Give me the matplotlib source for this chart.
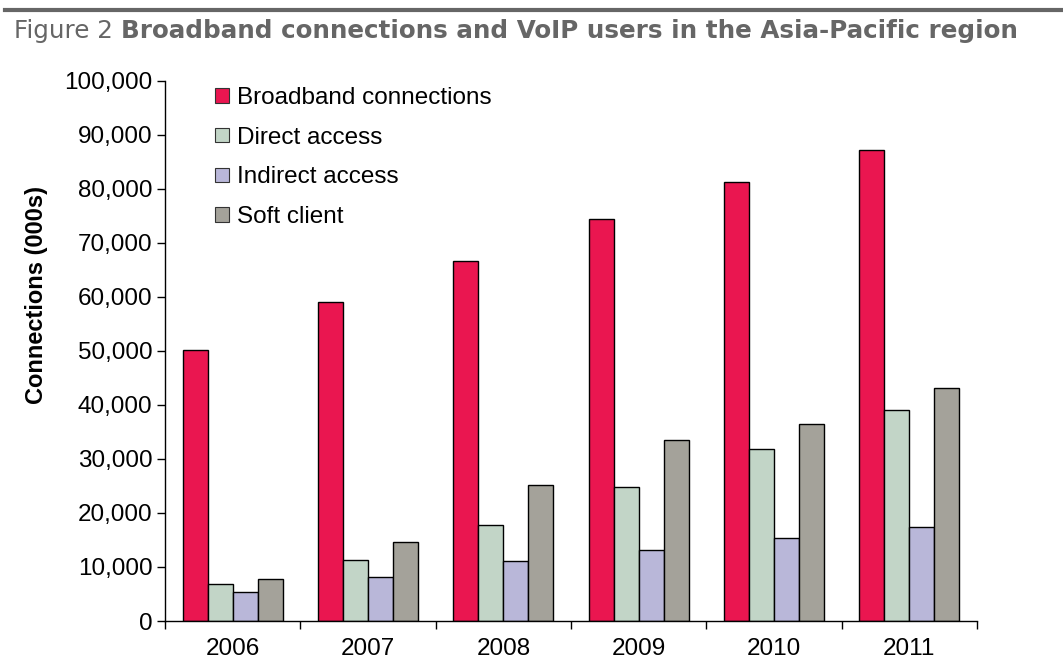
import matplotlib
matplotlib.use("Agg")
import matplotlib.pyplot as plt
import numpy as np
from matplotlib.patches import Patch
from matplotlib.ticker import FuncFormatter

years = ["2006", "2007", "2008", "2009", "2010", "2011"]
broadband = [50200, 59100, 66700, 74400, 81300, 87200]
direct = [6900, 11300, 17800, 24800, 31900, 39100]
indirect = [5400, 8100, 11100, 13100, 15400, 17400]
soft = [7800, 14600, 25200, 33500, 36500, 43100]
series_names = ["Broadband connections", "Direct access", "Indirect access", "Soft client"]
colors = ["#EA1650", "#C2D5C7", "#B9B7D9", "#A4A29A"]

plt.rcParams['font.family'] = ['Liberation Sans', 'DejaVu Sans']

fig = plt.figure(figsize=(10.63, 6.68), dpi=100)
ax = fig.add_axes([165/1063, 1-621/668, (977-165)/1063, (621-81)/668])

x = np.arange(len(years))
w = 0.185
data = [broadband, direct, indirect, soft]
for i, (vals, c) in enumerate(zip(data, colors)):
    ax.bar(x + (i - 1.5) * w, vals, width=w, color=c, edgecolor="black", linewidth=1.0)

ax.set_xlim(-0.5, len(years) - 0.5)
ax.set_ylim(0, 100000)
ax.set_yticks(np.arange(0, 100001, 10000))
ax.yaxis.set_major_formatter(FuncFormatter(lambda v, p: f"{int(v):,}"))
ax.set_xticks(x)
ax.set_xticklabels(years)
ax.set_xticks(np.arange(-0.5, len(years), 1.0), minor=True)
ax.tick_params(axis='x', which='major', length=0, labelsize=17.5, pad=12)
ax.tick_params(axis='x', which='minor', length=6, width=1, direction='out')
ax.tick_params(axis='y', which='major', length=6, width=1, direction='out', labelsize=17.5, pad=3)
for s in ["top", "right"]:
    ax.spines[s].set_visible(False)
for s in ["left", "bottom"]:
    ax.spines[s].set_linewidth(1.0)

ax.set_ylabel("Connections (000s)", fontsize=17, fontweight='bold')
ax.yaxis.set_label_coords((48 - 165) / 812, (621 - 295) / 540)

handles = [Patch(facecolor=c, edgecolor="#333333", linewidth=0.8) for c in colors]
leg = ax.legend(handles, series_names, loc='upper left', bbox_to_anchor=(0.05, 1.007),
                frameon=False, fontsize=17.5, handlelength=0.55, handleheight=0.55,
                handletextpad=0.35, labelspacing=0.73, borderaxespad=0)

# title rule and title
fig.add_artist(plt.Line2D([5/1063, 1.0], [1-10/668, 1-10/668], color="#666666", linewidth=3,
                          transform=fig.transFigure))
fig.text(14/1063, 1-31/668, "Figure 2 ", fontsize=17.7, color="#666666",
         family="DejaVu Sans", va="center", ha="left")
t1 = fig.texts[-1]
fig.canvas.draw()
bb = t1.get_window_extent()
fig.text(bb.x1/1063, 1-31/668, "Broadband connections and VoIP users in the Asia-Pacific region",
         fontsize=17.7, color="#666666", family="DejaVu Sans", fontweight='bold',
         va="center", ha="left")

fig.savefig("out.png", dpi=100)
